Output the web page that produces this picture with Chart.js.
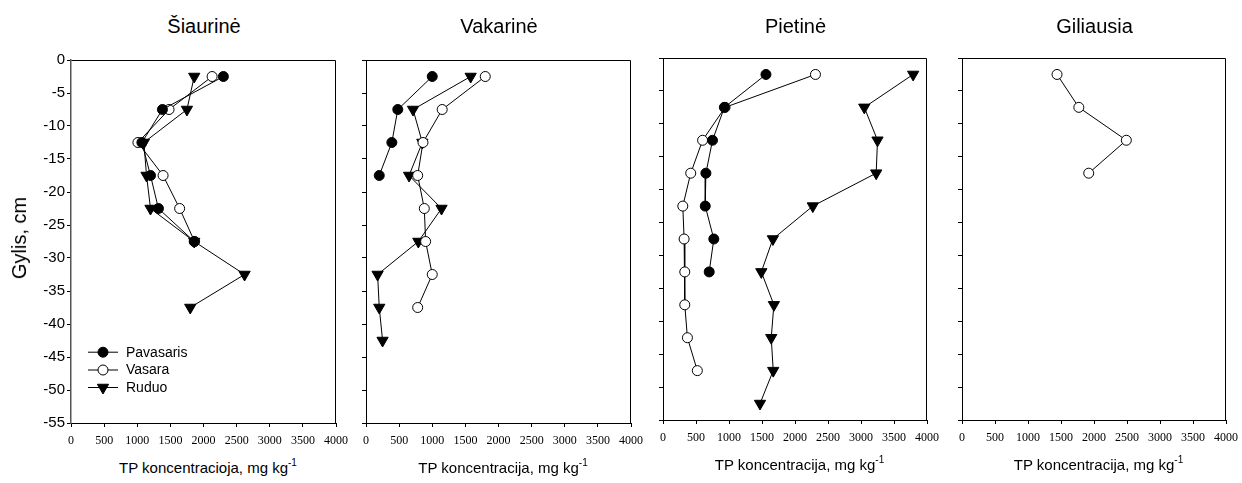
<!DOCTYPE html>
<html>
<head>
<meta charset="utf-8">
<script src="https://cdn.jsdelivr.net/npm/chart.js@4.4.1/dist/chart.umd.min.js"></script>
<style>
  body { margin: 0; background: #fff; width: 1242px; height: 483px; position: relative; overflow: hidden;
         font-family: "Liberation Sans", Arial, sans-serif; color: #000; }
  canvas { position: absolute; }
  .lbl { position: absolute; white-space: nowrap; line-height: 1; }
  .title { font-size: 20px; transform: translateX(-50%); }
  .xtitle { font-size: 15px; transform: translateX(-50%); }
  .xtitle sup { font-size: 10px; line-height: 0; vertical-align: 7px; }
  .ytitle { font-size: 20px; transform: translate(-50%, -50%) rotate(-90deg); }
</style>
</head>
<body>
<canvas id="c1"></canvas>
<canvas id="c2"></canvas>
<canvas id="c3"></canvas>
<canvas id="c4"></canvas>

<div class="lbl ytitle" style="left:19px; top:238px;">Gylis, cm</div>

<script>
// Depth of each sampling layer (cm), shared by every series
const depths = [-2.5, -7.5, -12.5, -17.5, -22.5, -27.5, -32.5, -37.5, -42.5, -47.5, -52.5];

// Axis ticks
const xTicks = [0, 500, 1000, 1500, 2000, 2500, 3000, 3500, 4000];
const yTicks = [0, -5, -10, -15, -20, -25, -30, -35, -40, -45, -50, -55];

const seriesNames = ["Pavasaris", "Vasara", "Ruduo"];

// TP concentration, mg/kg (one value per depth, from the top down)
const siaurPavasaris = [2300, 1380, 1070, 1200, 1320, 1860];
const siaurVasara    = [2130, 1480, 1010, 1390, 1640, 1865];
const siaurRuduo     = [1860, 1750, 1100, 1140, 1200, 1860, 2620, 1800];

const vakarPavasaris = [1000, 480, 390, 200];
const vakarVasara    = [1800, 1150, 860, 780, 880, 900, 1000, 780];
const vakarRuduo     = [1580, 710, 850, 650, 1140, 790, 175, 200, 250];

const pietPavasaris = [1560, 930, 750, 650, 640, 770, 700];
const pietVasara    = [2310, 940, 600, 420, 300, 320, 330, 330, 370, 520];
const pietRuduo     = [3790, 3050, 3250, 3230, 2270, 1665, 1490, 1680, 1640, 1670, 1470];

const giliVasara = [1440, 1770, 2490, 1920];

// Layout of each panel's plot area on the page
const YW = 60, PT = 14, PR = 18, XH = 30;

const panels = [
  { id: "c1", title: "Šiaurinė", xTitle: "TP koncentracioja, mg kg", l: 71, r: 337, t: 60, b: 423,
    data: [siaurPavasaris, siaurVasara, siaurRuduo], yLabels: true, legend: true },
  { id: "c2", title: "Vakarinė", xTitle: "TP koncentracija, mg kg", l: 366, r: 632, t: 59.5, b: 422.5,
    data: [vakarPavasaris, vakarVasara, vakarRuduo] },
  { id: "c3", title: "Pietinė", xTitle: "TP koncentracija, mg kg", l: 663, r: 928, t: 57.5, b: 420,
    data: [pietPavasaris, pietVasara, pietRuduo] },
  { id: "c4", title: "Giliausia", xTitle: "TP koncentracija, mg kg", l: 962, r: 1227, t: 57.5, b: 420,
    data: [[], giliVasara, []] }
];

const markerStyles = [
  { pointStyle: "circle", radius: 5, fill: "#000", rotation: 0 },
  { pointStyle: "circle", radius: 5, fill: "#fff", rotation: 0 },
  { pointStyle: "triangle", radius: 6.5, fill: "#000", rotation: 180 }
];

function drawMarker(ctx, m, x, y) {
  ctx.beginPath();
  if (m.pointStyle === "circle") {
    ctx.arc(x, y, m.radius, 0, Math.PI * 2);
  } else {
    // downward triangle
    const r = m.radius;
    ctx.moveTo(x - r * 0.866, y - r * 0.5);
    ctx.lineTo(x + r * 0.866, y - r * 0.5);
    ctx.lineTo(x, y + r);
    ctx.closePath();
  }
  ctx.fillStyle = m.fill;
  ctx.fill();
  ctx.lineWidth = 1;
  ctx.strokeStyle = "#000";
  ctx.stroke();
}

// top and right edge of the frame
const boxPlugin = {
  id: "box",
  afterDraw(chart) {
    const { ctx, chartArea: a } = chart;
    ctx.save();
    ctx.strokeStyle = "#000";
    ctx.lineWidth = 1;
    ctx.beginPath();
    ctx.moveTo(Math.round(a.left) + 0.5, Math.round(a.top) + 0.5);
    ctx.lineTo(Math.round(a.right) - 0.5, Math.round(a.top) + 0.5);
    ctx.lineTo(Math.round(a.right) - 0.5, Math.round(a.bottom));
    ctx.stroke();
    ctx.restore();
  }
};

// legend drawn inside the first panel: line with the marker on it
const legendPlugin = {
  id: "insideLegend",
  afterDraw(chart, args, opts) {
    if (!opts.show) return;
    const { ctx, chartArea: a } = chart;
    const x0 = a.left + 17, x1 = a.left + 47, xm = a.left + 32, xt = a.left + 55;
    const rows = [a.top + 291.7, a.top + 309.5, a.top + 327];
    ctx.save();
    seriesNames.forEach((name, i) => {
      const y = rows[i];
      ctx.strokeStyle = "#000";
      ctx.lineWidth = 1;
      ctx.beginPath();
      ctx.moveTo(x0, y + 0.5);
      ctx.lineTo(x1, y + 0.5);
      ctx.stroke();
      drawMarker(ctx, markerStyles[i], xm, y + 0.5);
      ctx.fillStyle = "#000";
      ctx.font = '14px "Liberation Sans", Arial, sans-serif';
      ctx.textBaseline = "middle";
      ctx.textAlign = "left";
      ctx.fillText(name, xt, y + 1);
    });
    ctx.restore();
  }
};

function makePanel(p) {
  const canvas = document.getElementById(p.id);
  const w = (p.r - p.l) + YW + PR;
  const h = (p.b - p.t) + PT + XH;
  canvas.style.left = (p.l - YW) + "px";
  canvas.style.top = (p.t - PT) + "px";
  canvas.style.width = w + "px";
  canvas.style.height = h + "px";
  canvas.width = w;
  canvas.height = h;

  // page labels
  const t = document.createElement("div");
  t.className = "lbl title";
  t.style.left = ((p.l + p.r) / 2) + "px";
  t.style.top = "16px";
  t.textContent = p.title;
  document.body.appendChild(t);

  const xt = document.createElement("div");
  xt.className = "lbl xtitle";
  xt.style.left = ((p.l + p.r) / 2 + 4) + "px";
  xt.style.top = (p.b + 37) + "px";
  xt.innerHTML = p.xTitle + "<sup>-1</sup>";
  document.body.appendChild(xt);

  const datasets = p.data.map((vals, i) => ({
    label: seriesNames[i],
    data: vals.map((v, k) => ({ x: v, y: depths[k] })),
    showLine: true,
    borderColor: "#000",
    borderWidth: 1,
    pointStyle: markerStyles[i].pointStyle,
    pointRotation: markerStyles[i].rotation,
    pointRadius: markerStyles[i].radius,
    pointHoverRadius: markerStyles[i].radius,
    pointBackgroundColor: markerStyles[i].fill,
    pointBorderColor: "#000",
    pointBorderWidth: 1
  }));

  new Chart(canvas, {
    type: "scatter",
    data: { datasets },
    options: {
      responsive: false,
      animation: false,
      events: [],
      layout: { padding: { left: 0, top: PT, right: PR, bottom: 0 } },
      plugins: {
        legend: { display: false },
        tooltip: { enabled: false },
        insideLegend: { show: !!p.legend }
      },
      scales: {
        x: {
          type: "linear",
          min: xTicks[0],
          max: xTicks[xTicks.length - 1],
          afterBuildTicks(s) { s.ticks = xTicks.map(v => ({ value: v })); },
          afterFit(s) { s.height = XH; },
          grid: { drawOnChartArea: false, tickLength: 4, color: "#000", lineWidth: 1 },
          border: { color: "#000", width: 1 },
          ticks: {
            color: "#000",
            padding: 7,
            maxRotation: 0,
            autoSkip: false,
            font: { family: "'Liberation Serif', 'Times New Roman', serif", size: 12 },
            callback: v => String(v)
          }
        },
        y: {
          type: "linear",
          min: yTicks[yTicks.length - 1],
          max: yTicks[0],
          afterBuildTicks(s) { s.ticks = yTicks.map(v => ({ value: v })); },
          afterFit(s) { s.width = YW; },
          grid: { drawOnChartArea: false, tickLength: 4, color: "#000", lineWidth: 1 },
          border: { color: p.yLabels ? "#555" : "#000", width: p.yLabels ? 1.5 : 1 },
          ticks: {
            color: "#000",
            padding: 2,
            autoSkip: false,
            font: { family: '"Liberation Sans", Arial, sans-serif', size: 15 },
            callback: v => (p.yLabels ? String(v) : "")
          }
        }
      }
    },
    plugins: [boxPlugin, legendPlugin]
  });
}

panels.forEach(makePanel);
</script>
</body>
</html>
